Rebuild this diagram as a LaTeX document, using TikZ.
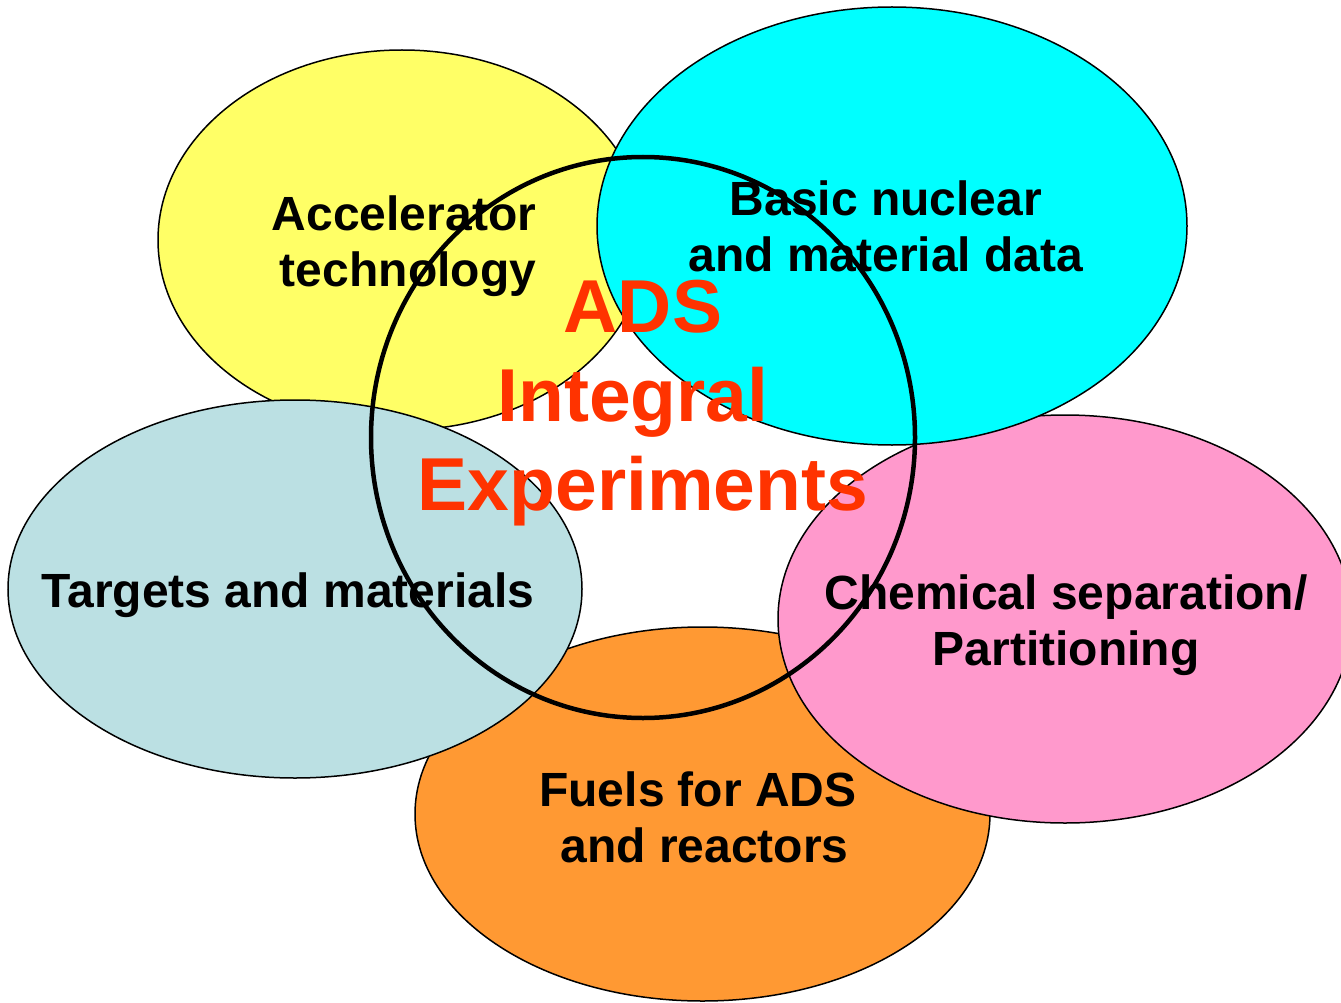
\documentclass[tikz,border=0pt]{standalone}
\usepackage{fontspec}
\setmainfont{Liberation Sans}
\definecolor{cYellow}{HTML}{FFFF66}
\definecolor{cCyan}{HTML}{00FFFF}
\definecolor{cLblue}{HTML}{BBE0E3}
\definecolor{cOrange}{HTML}{FF9933}
\definecolor{cPink}{HTML}{FF99CC}
\definecolor{cRed}{HTML}{FF3300}
\begin{document}
\begin{tikzpicture}[x=1pt,y=-1pt,
  blob/.style={draw=black,line width=1.5pt},
  lbl/.style={font=\fontsize{48}{56}\selectfont\bfseries,align=center,inner sep=0pt,anchor=base},
  big/.style={font=\fontsize{75}{89}\selectfont\bfseries,text=cRed,align=center,inner sep=0pt,anchor=base}]
\path[use as bounding box] (0,0) rectangle (1341,1003);
\begin{scope}
\clip (0,0) rectangle (1341,1003);
\draw[blob,fill=cYellow] (402,240) ellipse [x radius=244, y radius=190];
\draw[blob,fill=cOrange] (702.5,814) ellipse [x radius=287.5, y radius=187];
\draw[blob,fill=cPink] (1065,619) ellipse [x radius=287, y radius=204];
\draw[blob,fill=cCyan] (892,226) ellipse [x radius=295, y radius=219];
\draw[blob,fill=cLblue] (295,589) ellipse [x radius=287, y radius=189];
\draw[line width=4.5pt] (643,437.5) ellipse [x radius=272, y radius=280.5];
\end{scope}
\node[lbl] (acc) at (404,286) {Accelerator\\\hspace*{8pt}technology};
\node[lbl] (basic) at (886,271) {Basic nuclear\\and material data};
\node[lbl] (targ) at (288,607) {Targets and materials};
\node[lbl] (chem) at (1066,665) {Chemical separation/\\Partitioning};
\node[lbl] (fuel) at (698,862) {Fuels for ADS\\\ and reactors};
\node[big] (ads) at (643,510) {ADS\\Integral\rule{20pt}{0pt}\\Experiments};
\end{tikzpicture}
\end{document}
